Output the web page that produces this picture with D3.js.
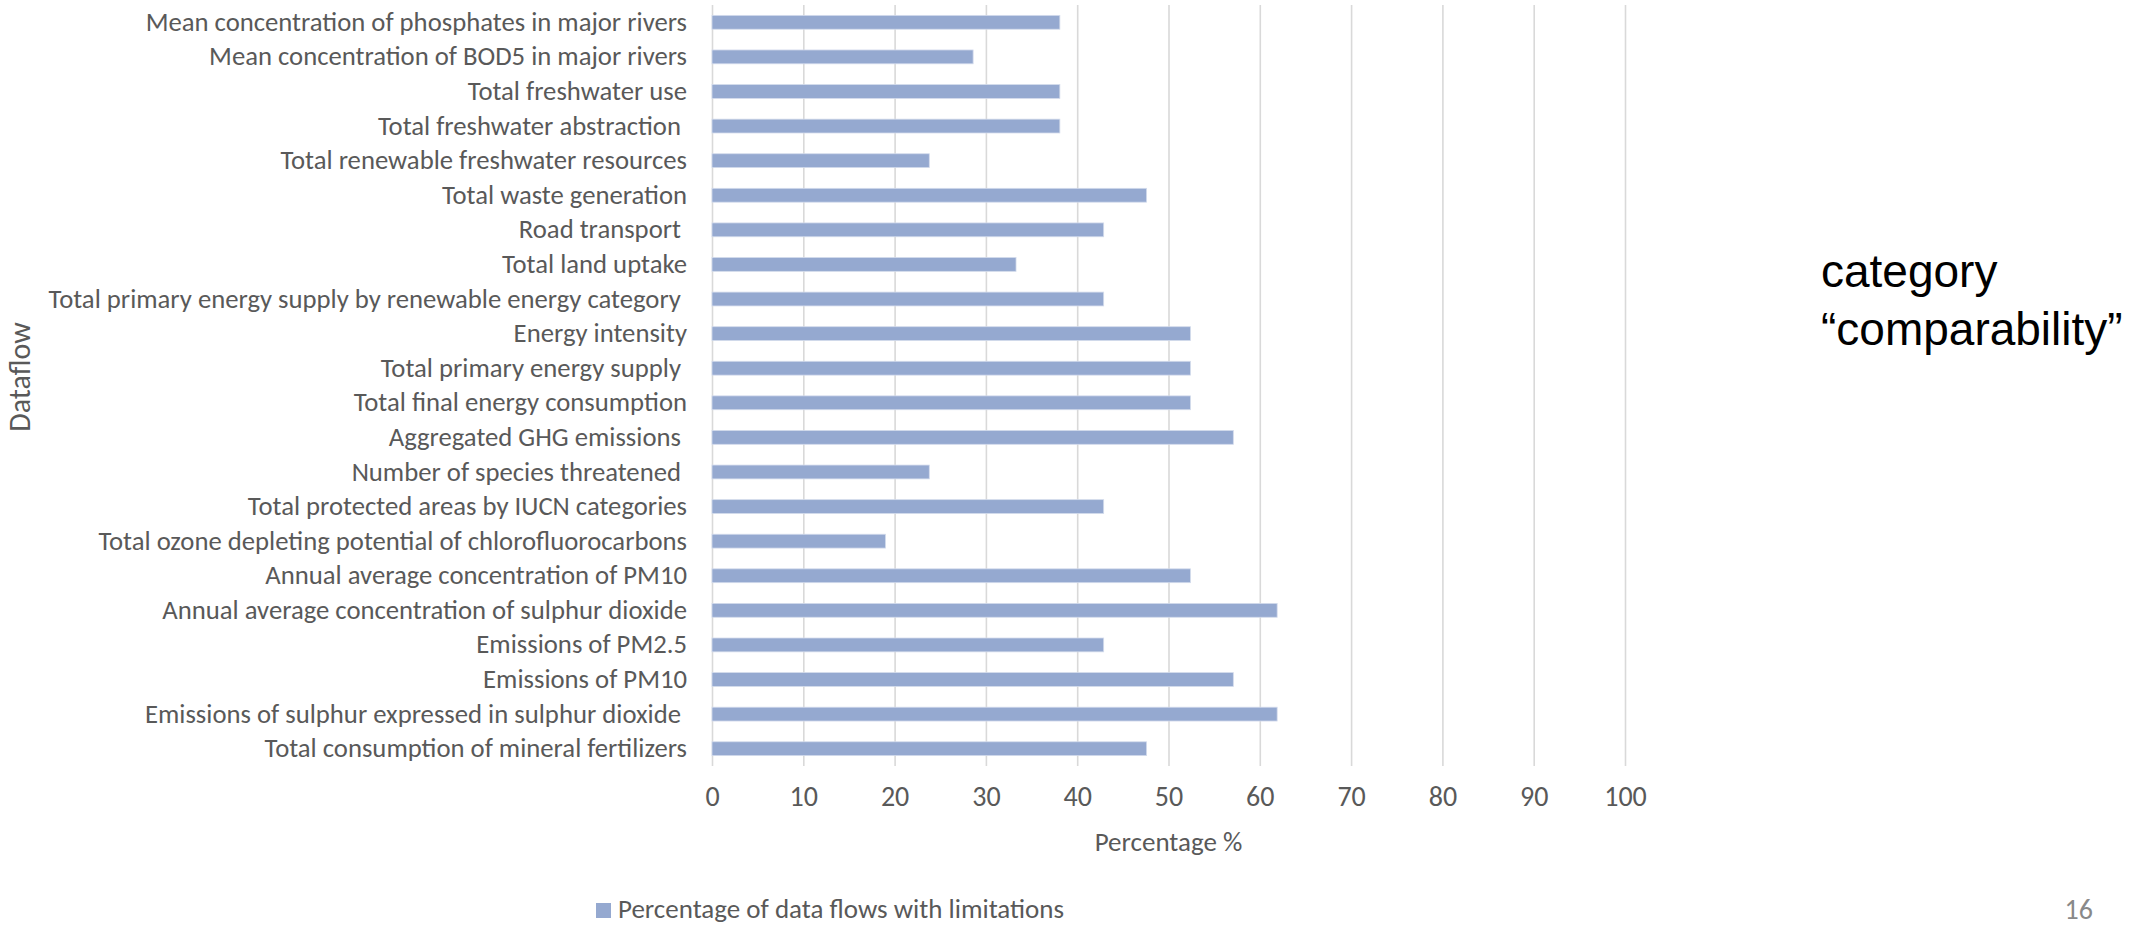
<!DOCTYPE html>
<html>
<head>
<meta charset="utf-8">
<script src="https://cdn.jsdelivr.net/npm/d3@7"></script>
<style>
  html, body { margin: 0; padding: 0; background: #ffffff; }
  svg { display: block; }
  text { white-space: pre; }
</style>
</head>
<body>
<svg id="chart" width="2134" height="927"></svg>
<script>
// Dataflows, listed top to bottom as they appear on the chart
const categories = [
  "Mean concentration of phosphates in major rivers",
  "Mean concentration of BOD5 in major rivers",
  "Total freshwater use",
  "Total freshwater abstraction ",
  "Total renewable freshwater resources",
  "Total waste generation",
  "Road transport ",
  "Total land uptake",
  "Total primary energy supply by renewable energy category ",
  "Energy intensity",
  "Total primary energy supply ",
  "Total final energy consumption",
  "Aggregated GHG emissions ",
  "Number of species threatened ",
  "Total protected areas by IUCN categories",
  "Total ozone depleting potential of chlorofluorocarbons",
  "Annual average concentration of PM10",
  "Annual average concentration of sulphur dioxide",
  "Emissions of PM2.5",
  "Emissions of PM10",
  "Emissions of sulphur expressed in sulphur dioxide ",
  "Total consumption of mineral fertilizers"
];

// Percentage of data flows with limitations (category "comparability")
const percentages = [
  38.1, 28.6, 38.1, 38.1, 23.8, 47.6, 42.9, 33.3, 42.9, 52.4, 52.4,
  52.4, 57.1, 23.8, 42.9, 19.0, 52.4, 61.9, 42.9, 57.1, 61.9, 47.6
];

const xTicks = [0, 10, 20, 30, 40, 50, 60, 70, 80, 90, 100];
const seriesName = "Percentage of data flows with limitations";
const xTitle = "Percentage %";
const yTitle = "Dataflow";
const sideNote = ["category", "\u201Ccomparability\u201D"];
const pageNumber = "16";

const FONT = "Carlito, Calibri, Lato, 'Open Sans', sans-serif";
const TEXT_GREY = "#595959";
const BAR_FILL = "#95a9d0";
const GRID = "#d9d9d9";

const svg = d3.select("#chart");
svg.append("rect").attr("width", 2134).attr("height", 927).attr("fill", "#ffffff");

const plot = { left: 712, right: 1625, top: 5, bottom: 766 };

const x = d3.scaleLinear().domain([0, 100]).range([plot.left, plot.right]);
const y = d3.scaleBand()
  .domain(categories)
  .range([plot.top, plot.bottom])
  .paddingInner(0.6)
  .paddingOuter(0.3);

// Vertical gridlines
const grid = svg.append("g")
  .attr("transform", `translate(0,${plot.bottom})`)
  .call(d3.axisBottom(x).tickValues(xTicks).tickSize(-(plot.bottom - plot.top)).tickFormat(""));
grid.select(".domain").remove();
grid.selectAll(".tick line").attr("stroke", GRID).attr("stroke-width", 1.6);

// Bars
svg.append("g")
  .selectAll("rect")
  .data(categories.map((c, i) => ({ c, v: percentages[i] })))
  .join("rect")
  .attr("x", x(0))
  .attr("y", d => y(d.c))
  .attr("width", d => x(d.v) - x(0))
  .attr("height", y.bandwidth())
  .attr("fill", BAR_FILL)
  .attr("stroke", "#d3dbec")
  .attr("stroke-width", 0.8);

// X axis tick labels
const xAxis = svg.append("g")
  .attr("transform", `translate(0,${plot.bottom})`)
  .call(d3.axisBottom(x).tickValues(xTicks).tickSize(0).tickPadding(20));
xAxis.select(".domain").remove();
xAxis.selectAll("text")
  .attr("font-family", FONT)
  .attr("font-size", 28)
  .attr("fill", TEXT_GREY);

// Y axis category labels
const yAxis = svg.append("g")
  .attr("transform", `translate(${plot.left},0)`)
  .call(d3.axisLeft(y).tickSize(0).tickPadding(25));
yAxis.select(".domain").remove();
yAxis.selectAll("text")
  .attr("font-family", FONT)
  .attr("font-size", 26.7)
  .attr("fill", TEXT_GREY);

// Axis titles
svg.append("text")
  .attr("x", (plot.left + plot.right) / 2)
  .attr("y", 851)
  .attr("text-anchor", "middle")
  .attr("font-family", FONT)
  .attr("font-size", 27)
  .attr("fill", TEXT_GREY)
  .text(xTitle);

svg.append("text")
  .attr("transform", "translate(30,377) rotate(-90)")
  .attr("text-anchor", "middle")
  .attr("font-family", FONT)
  .attr("font-size", 30)
  .attr("fill", TEXT_GREY)
  .text(yTitle);

// Legend
const legend = svg.append("g").attr("transform", "translate(596,903)");
legend.append("rect").attr("width", 15).attr("height", 15).attr("fill", BAR_FILL);
legend.append("text")
  .attr("x", 22)
  .attr("y", 15)
  .attr("font-family", FONT)
  .attr("font-size", 27)
  .attr("fill", TEXT_GREY)
  .text(seriesName);

// Side note
const note = svg.append("text")
  .attr("font-family", "'Liberation Sans', Arial, sans-serif")
  .attr("font-size", 46)
  .attr("fill", "#000000");
note.selectAll("tspan")
  .data(sideNote)
  .join("tspan")
  .attr("x", 1821)
  .attr("y", (d, i) => 287 + i * 58)
  .text(d => d);

// Page number
svg.append("text")
  .attr("x", 2093)
  .attr("y", 919)
  .attr("text-anchor", "end")
  .attr("font-family", FONT)
  .attr("font-size", 28)
  .attr("fill", "#898989")
  .text(pageNumber);
</script>
</body>
</html>
